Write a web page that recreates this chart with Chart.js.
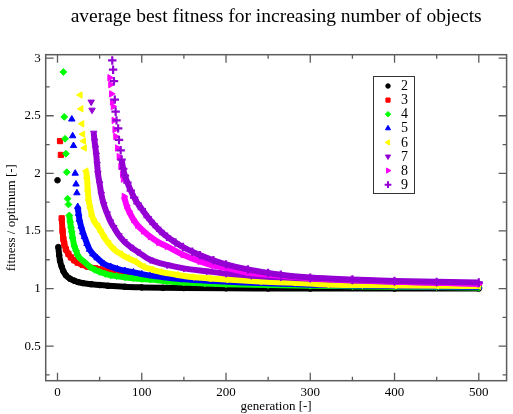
<!DOCTYPE html>
<html lang="en">
<head>
<meta charset="UTF-8">
<title>average best fitness for increasing number of objects</title>
<script src="https://cdn.jsdelivr.net/npm/chart.js"></script>
<style>
  html, body { margin: 0; padding: 0; background: #fff; }
  #wrap { width: 513px; height: 414px; }
</style>
</head>
<body>
<div id="wrap"><canvas id="fitnessChart" width="513" height="414"></canvas></div>
<script>
// series labels (number of objects) and their xmgrace colours
const objectCounts = ['2', '3', '4', '5', '6', '7', '8', '9'];
const seriesColors = ['#000000', '#ff0000', '#00ff00', '#0000ff', '#ffff00', '#9400d3', '#ff00ff', '#9400d3'];

// axis ticks
const xTickValues = [0, 100, 200, 300, 400, 500];
const xMinorTicks = [50, 150, 250, 350, 450];
const yTickValues = [0.5, 1, 1.5, 2, 2.5, 3];
const yMinorTicks = [0.25, 0.75, 1.25, 1.75, 2.25, 2.75];

// early, scattered points (generation / fitness)
const gen2Head = [0];
const fit2Head = [1.94];
const gen3Head = [3, 4];
const fit3Head = [2.28, 2.16];
const gen4Head = [7, 8, 9, 10, 11, 12, 13];
const fit4Head = [2.88, 2.49, 2.30, 2.17, 2.01, 1.78, 1.73];
const gen5Head = [17, 18, 19, 21, 22, 23];
const fit5Head = [2.47, 2.325, 2.24, 2.00, 1.906, 1.83];
const gen6Head = [27, 28, 29, 30, 31, 32];
const fit6Head = [2.68, 2.56, 2.43, 2.34, 2.28, 2.22];
const gen7Head = [40, 41];
const fit7Head = [2.62, 2.55];
const gen8Head = [62, 63, 64, 65, 66, 67, 68, 69, 71, 73, 75, 77, 78];
const fit8Head = [2.83, 2.77, 2.69, 2.62, 2.58, 2.46, 2.38, 2.32, 2.22, 2.145, 2.06, 1.99, 1.95];
const gen9Head = [65, 66, 67, 68, 69, 70, 72, 73, 75];
const fit9Head = [2.98, 2.90, 2.80, 2.64, 2.535, 2.46, 2.39, 2.29, 2.20];

// dense part of each curve
const gen2 = [1, 2, 3, 5, 7, 10, 15, 20, 25, 30, 40, 50, 60, 80, 100, 125, 150, 200, 250, 300, 400, 500];
const fit2 = [1.36, 1.29, 1.24, 1.19, 1.15, 1.115, 1.085, 1.068, 1.055, 1.047, 1.038, 1.03, 1.024, 1.015, 1.01, 1.006, 1.004, 1.002, 1.001, 1.0, 1.0, 1.0];
const gen3 = [5, 6, 7, 8, 10, 13, 16, 20, 24, 30, 36, 45, 52, 60, 70, 80, 90, 100, 120, 140, 160, 180, 200, 250, 300, 350, 400, 450, 500];
const fit3 = [1.61, 1.50, 1.43, 1.39, 1.34, 1.30, 1.27, 1.245, 1.225, 1.205, 1.19, 1.175, 1.165, 1.155, 1.145, 1.135, 1.124, 1.112, 1.097, 1.085, 1.075, 1.066, 1.06, 1.048, 1.04, 1.033, 1.028, 1.024, 1.02];
const gen4 = [14, 15, 16, 17, 18, 20, 22, 24, 27, 32, 38, 44, 50, 57, 63, 70, 80, 90, 100, 110, 130, 150, 175, 200, 250, 300, 350, 400, 450, 500];
const fit4 = [1.635, 1.58, 1.53, 1.49, 1.44, 1.37, 1.33, 1.29, 1.26, 1.23, 1.19, 1.165, 1.145, 1.128, 1.115, 1.108, 1.098, 1.09, 1.083, 1.078, 1.064, 1.052, 1.044, 1.038, 1.03, 1.024, 1.02, 1.016, 1.013, 1.01];
const gen5 = [24, 25, 26, 28, 30, 32, 35, 38, 42, 47, 55, 63, 71, 80, 90, 100, 110, 130, 150, 185, 220, 265, 300, 350, 400, 450, 500];
const fit5 = [1.71, 1.65, 1.60, 1.54, 1.49, 1.45, 1.39, 1.34, 1.30, 1.265, 1.215, 1.19, 1.17, 1.155, 1.142, 1.125, 1.112, 1.095, 1.08, 1.065, 1.053, 1.042, 1.033, 1.026, 1.021, 1.017, 1.015];
const gen6 = [34, 35, 36, 37, 39, 41, 44, 48, 52, 56, 61, 67, 75, 83, 92, 102, 112, 122, 141, 160, 180, 200, 240, 280, 320, 360, 400, 450, 500];
const fit6 = [2.02, 1.96, 1.85, 1.77, 1.70, 1.63, 1.58, 1.54, 1.49, 1.44, 1.39, 1.34, 1.30, 1.266, 1.235, 1.19, 1.165, 1.145, 1.12, 1.10, 1.088, 1.078, 1.062, 1.05, 1.035, 1.03, 1.027, 1.024, 1.022];
const gen7 = [43, 44, 45, 46, 47, 48, 50, 52, 55, 59, 63, 67, 73, 79, 87, 95, 110, 130, 150, 177, 200, 230, 265, 300, 350, 400, 450, 500];
const fit7 = [2.35, 2.28, 2.22, 2.16, 2.08, 2.00, 1.91, 1.82, 1.73, 1.65, 1.58, 1.53, 1.46, 1.41, 1.36, 1.32, 1.25, 1.205, 1.175, 1.15, 1.13, 1.112, 1.097, 1.085, 1.07, 1.058, 1.05, 1.043];
const gen8 = [79, 82, 85, 90, 95, 102, 110, 120, 130, 149, 169, 185, 200, 226, 265, 300, 350, 400, 450, 500];
const fit8 = [1.80, 1.72, 1.67, 1.60, 1.55, 1.50, 1.45, 1.40, 1.366, 1.294, 1.236, 1.20, 1.18, 1.14, 1.11, 1.09, 1.075, 1.06, 1.05, 1.04];
const gen9 = [76, 78, 80, 83, 87, 91, 95, 100, 107, 114, 122, 130, 140, 149, 160, 169, 185, 200, 226, 250, 265, 300, 350, 400, 450, 500];
const fit9 = [2.12, 2.04, 1.98, 1.92, 1.85, 1.79, 1.74, 1.69, 1.62, 1.56, 1.50, 1.45, 1.40, 1.36, 1.32, 1.29, 1.245, 1.21, 1.165, 1.135, 1.12, 1.095, 1.078, 1.066, 1.058, 1.052];

const heads = [[gen2Head, fit2Head], [gen3Head, fit3Head], [gen4Head, fit4Head], [gen5Head, fit5Head],
               [gen6Head, fit6Head], [gen7Head, fit7Head], [gen8Head, fit8Head], [gen9Head, fit9Head]];
const bands = [[gen2, fit2], [gen3, fit3], [gen4, fit4], [gen5, fit5],
               [gen6, fit6], [gen7, fit7], [gen8, fit8], [gen9, fit9]];

const markerStyles = [
    { style: 'circle', rotation: 0, radius: 2.8 },
    { style: 'rect', rotation: 0, radius: 3.7 },
    { style: 'rectRot', rotation: 0, radius: 3.4 },
    { style: 'triangle', rotation: 0, radius: 3.7 },
    { style: 'triangle', rotation: -90, radius: 3.7 },
    { style: 'triangle', rotation: 180, radius: 3.7 },
    { style: 'triangle', rotation: 90, radius: 3.7 },
    { style: 'cross', rotation: 0, radius: 4.2 }
];

const serif = 'Liberation Serif';
const toPoints = (gx, fy) => gx.map((g, i) => ({ x: g, y: fy[i] }));

const datasets = [];
objectCounts.forEach((label, i) => {
    const c = seriesColors[i];
    const m = markerStyles[i];
    const marker = {
        pointStyle: m.style,
        rotation: m.rotation,
        pointRadius: m.radius,
        pointBackgroundColor: c,
        pointBorderColor: c,
        pointBorderWidth: m.style === 'cross' ? 2.2 : 1
    };
    datasets.push(Object.assign({
        label: label,
        data: toPoints(bands[i][0], bands[i][1]),
        showLine: true,
        borderColor: c,
        backgroundColor: c,
        borderWidth: 6,
        cubicInterpolationMode: 'monotone',
        order: 100 - 2 * i
    }, marker));
    datasets.push(Object.assign({
        label: label + ' start',
        data: toPoints(heads[i][0], heads[i][1]),
        showLine: false,
        order: 99 - 2 * i
    }, marker));
});

// frame with inward ticks on all four sides, like xmgrace
const frameTicks = {
    id: 'frameTicks',
    afterDatasetsDraw(chart) {
        const { ctx, chartArea: a, scales } = chart;
        const x = scales.x, y = scales.y;
        ctx.save();
        ctx.strokeStyle = '#5c5c5c';
        ctx.lineWidth = 1.5;
        ctx.strokeRect(a.left, a.top, a.right - a.left, a.bottom - a.top);
        ctx.lineWidth = 1.3;
        const xt = (vals, len) => vals.forEach(v => {
            const px = x.getPixelForValue(v);
            ctx.beginPath();
            ctx.moveTo(px, a.bottom); ctx.lineTo(px, a.bottom - len);
            ctx.moveTo(px, a.top); ctx.lineTo(px, a.top + len);
            ctx.stroke();
        });
        const yt = (vals, len) => vals.forEach(v => {
            const py = y.getPixelForValue(v);
            ctx.beginPath();
            ctx.moveTo(a.left, py); ctx.lineTo(a.left + len, py);
            ctx.moveTo(a.right, py); ctx.lineTo(a.right - len, py);
            ctx.stroke();
        });
        xt(xTickValues, 8); xt(xMinorTicks, 4);
        yt(yTickValues, 8); yt(yMinorTicks, 4);
        ctx.restore();
    }
};

// boxed legend inside the plot
const boxLegend = {
    id: 'boxLegend',
    afterDraw(chart) {
        const ctx = chart.ctx;
        const left = 373, top = 76, w = 41, h = 117;
        ctx.save();
        ctx.fillStyle = '#fff';
        ctx.fillRect(left, top, w, h);
        ctx.strokeStyle = '#333';
        ctx.lineWidth = 1;
        ctx.strokeRect(left + 0.5, top + 0.5, w, h);
        ctx.font = '14px "' + serif + '"';
        ctx.textBaseline = 'middle';
        objectCounts.forEach((label, i) => {
            const ly = 86 + i * 14.1;
            const m = markerStyles[i];
            ctx.fillStyle = seriesColors[i];
            ctx.strokeStyle = seriesColors[i];
            ctx.lineWidth = m.style === 'cross' ? 2 : 1;
            Chart.helpers.drawPoint(ctx, {
                pointStyle: m.style, rotation: m.rotation,
                radius: m.radius * 0.8, borderWidth: ctx.lineWidth
            }, 388, ly);
            ctx.fillStyle = '#000';
            ctx.fillText(label, 401, ly + 0.5);
        });
        ctx.restore();
    }
};

new Chart(document.getElementById('fitnessChart'), {
    type: 'scatter',
    data: { datasets: datasets },
    plugins: [frameTicks, boxLegend],
    options: {
        responsive: false,
        animation: false,
        layout: { padding: { left: 0, right: 1, top: 0, bottom: 0 } },
        plugins: {
            legend: { display: false },
            tooltip: { enabled: false },
            title: {
                display: true,
                fullSize: false,
                text: 'average best fitness for increasing number of objects',
                color: '#000',
                font: { family: serif, size: 19.5, weight: 'normal' },
                padding: { top: 5.5, bottom: 25.8 }
            }
        },
        scales: {
            x: {
                type: 'linear',
                min: -14,
                max: 533,
                afterBuildTicks: s => { s.ticks = xTickValues.map(v => ({ value: v })); },
                afterFit: s => { s.height = 33.3; },
                grid: { display: false, drawTicks: false },
                border: { display: false },
                ticks: { color: '#000', padding: 4, maxRotation: 0, font: { family: serif, size: 13 }, callback: v => String(v) },
                title: {
                    display: true, text: 'generation [-]', color: '#000',
                    font: { family: serif, size: 13 }, padding: { top: 0, bottom: 0 }
                }
            },
            y: {
                type: 'linear',
                min: 0.2,
                max: 3.03,
                afterBuildTicks: s => { s.ticks = yTickValues.map(v => ({ value: v })); },
                afterFit: s => { s.width = 45.7; },
                grid: { display: false, drawTicks: false },
                border: { display: false },
                ticks: { color: '#000', padding: 5, font: { family: serif, size: 13 }, callback: v => String(v) },
                title: {
                    display: true, text: 'fitness / optimum [-]', color: '#000',
                    font: { family: serif, size: 13 }, padding: { top: 4, bottom: 0 }
                }
            }
        }
    }
});
</script>
</body>
</html>
